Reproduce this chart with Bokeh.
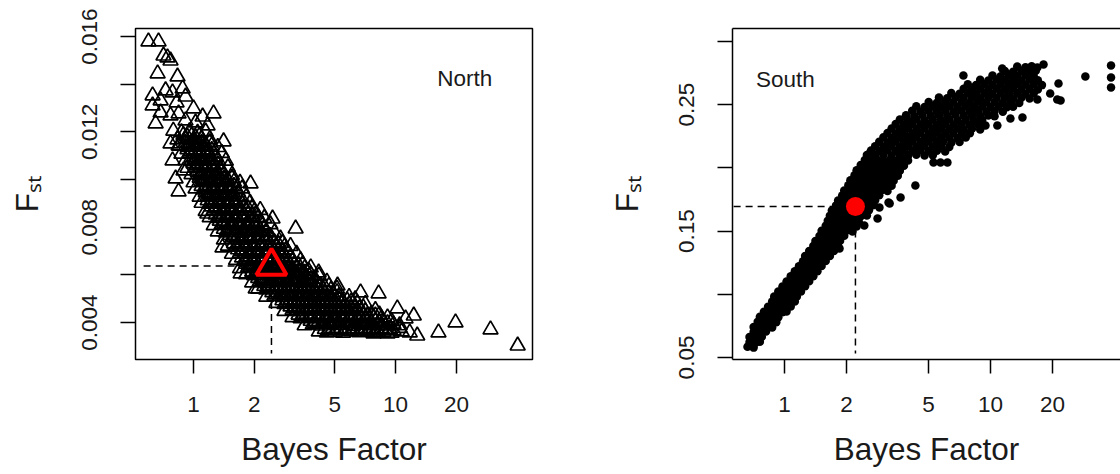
from bokeh.plotting import figure
from bokeh.layouts import row
from bokeh.models import FixedTicker, BasicTickFormatter, Label, LogAxis, Range1d
from bokeh.embed import file_html
from bokeh.resources import INLINE

# ----------------------------------------------------------------- data
x_ticks = [1, 2, 5, 10, 20]
north_y_ticks = [0.004, 0.008, 0.012, 0.016]
north_y_minor = [0.006, 0.010, 0.014]
south_y_ticks = [0.05, 0.15, 0.25]
south_y_minor = [0.10, 0.20, 0.30]

panel_names = ["North", "South"]
x_title = "Bayes Factor"
y_title = "F\u209b\u209c"

# North: Bayes factor / Fst of each locus (band read row by row, then stragglers)
north_bf = [
    0.794, 0.871, 0.955, 1.047, 1.148,
    0.832, 0.912, 1.000, 1.096, 1.202,
    0.851, 0.933, 1.023, 1.122, 1.230, 1.318,
    0.871, 0.955, 1.047, 1.148, 1.259, 1.380,
    0.912, 1.000, 1.096, 1.202, 1.318, 1.445,
    0.933, 1.023, 1.122, 1.230, 1.349, 1.479,
    0.977, 1.072, 1.175, 1.288, 1.413, 1.549,
    1.000, 1.096, 1.202, 1.318, 1.445, 1.585, 1.698,
    1.023, 1.122, 1.230, 1.349, 1.479, 1.622, 1.738,
    1.072, 1.175, 1.288, 1.413, 1.549, 1.698, 1.820,
    1.096, 1.202, 1.318, 1.445, 1.585, 1.738, 1.905,
    1.148, 1.259, 1.380, 1.514, 1.660, 1.820, 1.995, 2.138,
    1.202, 1.318, 1.445, 1.585, 1.738, 1.905, 2.089, 2.239,
    1.259, 1.380, 1.514, 1.660, 1.820, 1.995, 2.188, 2.399,
    1.318, 1.445, 1.585, 1.738, 1.905, 2.089, 2.291, 2.512,
    1.413, 1.549, 1.698, 1.862, 2.042, 2.239, 2.455, 2.692,
    1.479, 1.622, 1.778, 1.950, 2.138, 2.344, 2.570, 2.818, 3.020,
    1.549, 1.698, 1.862, 2.042, 2.239, 2.455, 2.692, 2.951, 3.236,
    1.622, 1.778, 1.950, 2.138, 2.344, 2.570, 2.818, 3.090, 3.388,
    1.698, 1.862, 2.042, 2.239, 2.455, 2.692, 2.951, 3.236, 3.548, 3.802,
    1.820, 1.995, 2.188, 2.399, 2.630, 2.884, 3.162, 3.467, 3.802, 4.169,
    1.950, 2.138, 2.344, 2.570, 2.818, 3.090, 3.388, 3.715, 4.074, 4.571,
    2.089, 2.291, 2.512, 2.754, 3.020, 3.311, 3.631, 3.981, 4.365, 4.786, 5.129,
    2.291, 2.512, 2.754, 3.020, 3.311, 3.631, 3.981, 4.365, 4.786, 5.248, 5.888,
    2.570, 2.818, 3.090, 3.388, 3.715, 4.074, 4.467, 4.898, 5.370, 5.888, 6.457, 7.079,
    2.818, 3.090, 3.388, 3.715, 4.074, 4.467, 4.898, 5.370, 5.888, 6.457, 7.079, 7.943,
    3.090, 3.388, 3.715, 4.074, 4.467, 4.898, 5.370, 5.888, 6.457, 7.079, 7.762, 8.511, 9.120,
    3.548, 3.890, 4.266, 4.677, 5.129, 5.623, 6.166, 6.761, 7.413, 8.128, 8.913, 9.772, 10.47,
    4.169, 4.571, 5.012, 5.495, 6.026, 6.607, 7.244, 7.943, 8.710, 9.550, 10.72, 11.75,
    0.598, 0.671, 0.710, 0.743, 0.769, 0.664, 0.833, 0.627, 0.727, 0.883,
    0.913, 0.627, 0.787, 0.687, 0.649, 0.769, 0.843, 1.109, 1.256, 1.173,
    1.408, 0.769, 0.843, 0.815, 0.843, 1.915, 0.892, 2.46, 3.20, 1.39,
    1.71, 2.03, 4.16, 5.16, 6.71, 8.24, 10.2, 12.3, 11.2, 7.78,
    9.12, 12.8, 16.3, 19.8, 29.5, 40.2, 1.17,
    1.000, 0.912, 1.023, 0.687, 0.824, 0.787,
]
north_fst = [
    0.01205, 0.01198, 0.01202, 0.01196, 0.01201,
    0.01168, 0.01173, 0.01166, 0.01171, 0.01169,
    0.01142, 0.01137, 0.01141, 0.01138, 0.01143, 0.01136,
    0.01108, 0.01112, 0.01107, 0.01113, 0.01109, 0.01111,
    0.01081, 0.01077, 0.01083, 0.01078, 0.01082, 0.01079,
    0.01049, 0.01053, 0.01048, 0.01052, 0.01047, 0.01051,
    0.01022, 0.01018, 0.01021, 0.01017, 0.01023, 0.01019,
    0.00988, 0.00992, 0.00987, 0.00993, 0.00989, 0.00991, 0.00986,
    0.00962, 0.00958, 0.00961, 0.00957, 0.00963, 0.00959, 0.00962,
    0.00928, 0.00932, 0.00927, 0.00933, 0.00929, 0.00931, 0.00926,
    0.00902, 0.00898, 0.00901, 0.00897, 0.00903, 0.00899, 0.00902,
    0.00868, 0.00872, 0.00867, 0.00873, 0.00869, 0.00871, 0.00866, 0.00872,
    0.00842, 0.00838, 0.00841, 0.00837, 0.00843, 0.00839, 0.00842, 0.00838,
    0.00808, 0.00812, 0.00807, 0.00813, 0.00809, 0.00811, 0.00806, 0.00812,
    0.00782, 0.00778, 0.00781, 0.00777, 0.00783, 0.00779, 0.00782, 0.00778,
    0.00748, 0.00752, 0.00747, 0.00753, 0.00749, 0.00751, 0.00746, 0.00752,
    0.00722, 0.00718, 0.00721, 0.00717, 0.00723, 0.00719, 0.00722, 0.00718, 0.00721,
    0.00688, 0.00692, 0.00687, 0.00693, 0.00689, 0.00691, 0.00686, 0.00692, 0.00688,
    0.00662, 0.00658, 0.00661, 0.00657, 0.00663, 0.00659, 0.00662, 0.00658, 0.00661,
    0.00628, 0.00632, 0.00627, 0.00633, 0.00629, 0.00631, 0.00626, 0.00632, 0.00628, 0.00631,
    0.00602, 0.00598, 0.00601, 0.00597, 0.00603, 0.00599, 0.00602, 0.00598, 0.00601, 0.00597,
    0.00568, 0.00572, 0.00567, 0.00573, 0.00569, 0.00571, 0.00566, 0.00572, 0.00568, 0.00571,
    0.00542, 0.00538, 0.00541, 0.00537, 0.00543, 0.00539, 0.00542, 0.00538, 0.00541, 0.00537, 0.00542,
    0.00508, 0.00512, 0.00507, 0.00513, 0.00509, 0.00511, 0.00506, 0.00512, 0.00508, 0.00511, 0.00507,
    0.00482, 0.00478, 0.00481, 0.00477, 0.00483, 0.00479, 0.00482, 0.00478, 0.00481, 0.00477, 0.00482, 0.00478,
    0.00448, 0.00452, 0.00447, 0.00453, 0.00449, 0.00451, 0.00446, 0.00452, 0.00448, 0.00451, 0.00447, 0.00452,
    0.00422, 0.00418, 0.00421, 0.00417, 0.00423, 0.00419, 0.00422, 0.00418, 0.00421, 0.00417, 0.00422, 0.00418, 0.00421,
    0.00388, 0.00392, 0.00387, 0.00393, 0.00389, 0.00391, 0.00386, 0.00392, 0.00388, 0.00391, 0.00387, 0.00392, 0.00388,
    0.00362, 0.00358, 0.00361, 0.00357, 0.00363, 0.00359, 0.00362, 0.00358, 0.00361, 0.00357, 0.00362, 0.00358,
    0.01579, 0.01579, 0.01520, 0.01512, 0.01499, 0.01445, 0.01432, 0.01353, 0.01374, 0.01382,
    0.01348, 0.01311, 0.01365, 0.01332, 0.01235, 0.01269, 0.01277, 0.01264, 0.01277, 0.01227,
    0.01160, 0.01151, 0.01143, 0.01004, 0.00950, 0.00983, 0.01038, 0.00836, 0.00794, 0.00715,
    0.00606, 0.00543, 0.00610, 0.00555, 0.00526, 0.00522, 0.00459, 0.00429, 0.00417, 0.00354,
    0.00354, 0.00345, 0.00358, 0.00400, 0.00371, 0.00303, 0.00857,
    0.01298, 0.01248, 0.01239, 0.01281, 0.01323, 0.01080,
]
# North: loci packed between the rows above (core of the band)
north_bf_core = [
    0.891, 0.977, 1.072,
    0.912, 1.000, 1.096, 1.202,
    0.933, 1.023, 1.122, 1.230,
    0.977, 1.072, 1.175, 1.288,
    1.000, 1.096, 1.202, 1.318,
    1.047, 1.148, 1.259, 1.380,
    1.072, 1.175, 1.288, 1.413, 1.549,
    1.096, 1.202, 1.318, 1.445, 1.585,
    1.148, 1.259, 1.380, 1.514, 1.660,
    1.175, 1.288, 1.413, 1.549, 1.698,
    1.230, 1.349, 1.479, 1.622, 1.778, 1.950,
    1.288, 1.413, 1.549, 1.698, 1.862, 2.042,
    1.349, 1.479, 1.622, 1.778, 1.950, 2.138,
    1.413, 1.549, 1.698, 1.862, 2.042, 2.239,
    1.514, 1.660, 1.820, 1.995, 2.188, 2.399,
    1.585, 1.738, 1.905, 2.089, 2.291, 2.512, 2.754,
    1.660, 1.820, 1.995, 2.188, 2.399, 2.630, 2.884,
    1.738, 1.905, 2.089, 2.291, 2.512, 2.754, 3.020,
    1.820, 1.995, 2.188, 2.399, 2.630, 2.884, 3.162, 3.467,
    1.950, 2.138, 2.344, 2.570, 2.818, 3.090, 3.388, 3.715,
    2.089, 2.291, 2.512, 2.754, 3.020, 3.311, 3.631, 3.981,
    2.239, 2.455, 2.692, 2.951, 3.236, 3.548, 3.890, 4.266, 4.677,
    2.455, 2.692, 2.951, 3.236, 3.548, 3.890, 4.266, 4.677, 5.129,
    2.754, 3.020, 3.311, 3.631, 3.981, 4.365, 4.786, 5.248, 5.754, 6.310,
    3.020, 3.311, 3.631, 3.981, 4.365, 4.786, 5.248, 5.754, 6.310, 6.918,
    3.311, 3.631, 3.981, 4.365, 4.786, 5.248, 5.754, 6.310, 6.918, 7.586, 8.318,
    3.802, 4.169, 4.571, 5.012, 5.495, 6.026, 6.607, 7.244, 7.943, 8.710, 9.550,
    4.467, 4.898, 5.370, 5.888, 6.457, 7.079, 7.762, 8.511, 9.333, 10.47,
]
north_fst_core = [
    0.01187, 0.01183, 0.01186,
    0.01153, 0.01157, 0.01154, 0.01156,
    0.01127, 0.01123, 0.01126, 0.01124,
    0.01093, 0.01097, 0.01094, 0.01096,
    0.01067, 0.01063, 0.01066, 0.01064,
    0.01033, 0.01037, 0.01034, 0.01036,
    0.01007, 0.01003, 0.01006, 0.01004, 0.01007,
    0.00973, 0.00977, 0.00974, 0.00976, 0.00973,
    0.00947, 0.00943, 0.00946, 0.00944, 0.00947,
    0.00913, 0.00917, 0.00914, 0.00916, 0.00913,
    0.00887, 0.00883, 0.00886, 0.00884, 0.00887, 0.00883,
    0.00853, 0.00857, 0.00854, 0.00856, 0.00853, 0.00857,
    0.00827, 0.00823, 0.00826, 0.00824, 0.00827, 0.00823,
    0.00793, 0.00797, 0.00794, 0.00796, 0.00793, 0.00797,
    0.00767, 0.00763, 0.00766, 0.00764, 0.00767, 0.00763,
    0.00733, 0.00737, 0.00734, 0.00736, 0.00733, 0.00737, 0.00734,
    0.00707, 0.00703, 0.00706, 0.00704, 0.00707, 0.00703, 0.00706,
    0.00673, 0.00677, 0.00674, 0.00676, 0.00673, 0.00677, 0.00674,
    0.00647, 0.00643, 0.00646, 0.00644, 0.00647, 0.00643, 0.00646, 0.00644,
    0.00613, 0.00617, 0.00614, 0.00616, 0.00613, 0.00617, 0.00614, 0.00616,
    0.00587, 0.00583, 0.00586, 0.00584, 0.00587, 0.00583, 0.00586, 0.00584,
    0.00553, 0.00557, 0.00554, 0.00556, 0.00553, 0.00557, 0.00554, 0.00556, 0.00553,
    0.00527, 0.00523, 0.00526, 0.00524, 0.00527, 0.00523, 0.00526, 0.00524, 0.00527,
    0.00493, 0.00497, 0.00494, 0.00496, 0.00493, 0.00497, 0.00494, 0.00496, 0.00493, 0.00497,
    0.00467, 0.00463, 0.00466, 0.00464, 0.00467, 0.00463, 0.00466, 0.00464, 0.00467, 0.00463,
    0.00433, 0.00437, 0.00434, 0.00436, 0.00433, 0.00437, 0.00434, 0.00436, 0.00433, 0.00437, 0.00434,
    0.00407, 0.00403, 0.00406, 0.00404, 0.00407, 0.00403, 0.00406, 0.00404, 0.00407, 0.00403, 0.00406,
    0.00373, 0.00377, 0.00374, 0.00376, 0.00373, 0.00377, 0.00374, 0.00376, 0.00373, 0.00377,
]
# North: the densest, innermost loci
north_bf_inner = [
    0.933, 1.023,
    0.955, 1.047, 1.148,
    0.977, 1.072, 1.175,
    1.023, 1.122, 1.230,
    1.047, 1.148, 1.259,
    1.096, 1.202, 1.318,
    1.122, 1.230, 1.349, 1.479,
    1.148, 1.259, 1.380, 1.514,
    1.202, 1.318, 1.445, 1.585,
    1.230, 1.349, 1.479, 1.622,
    1.288, 1.413, 1.549, 1.698, 1.862,
    1.349, 1.479, 1.622, 1.778, 1.950,
    1.413, 1.549, 1.698, 1.862, 2.042,
    1.479, 1.622, 1.778, 1.950, 2.138,
    1.585, 1.738, 1.905, 2.089, 2.291,
    1.660, 1.820, 1.995, 2.188, 2.399, 2.630,
    1.738, 1.905, 2.089, 2.291, 2.512, 2.754,
    1.820, 1.995, 2.188, 2.399, 2.630, 2.884,
    1.905, 2.089, 2.291, 2.512, 2.754, 3.020, 3.311,
    2.042, 2.239, 2.455, 2.692, 2.951, 3.236, 3.548,
    2.188, 2.399, 2.630, 2.884, 3.162, 3.467, 3.802,
    2.344, 2.570, 2.818, 3.090, 3.388, 3.715, 4.074, 4.467,
    2.570, 2.818, 3.090, 3.388, 3.715, 4.074, 4.467, 4.898,
    2.884, 3.162, 3.467, 3.802, 4.169, 4.571, 5.012, 5.495, 6.026,
    3.162, 3.467, 3.802, 4.169, 4.571, 5.012, 5.495, 6.026, 6.607,
    3.467, 3.802, 4.169, 4.571, 5.012, 5.495, 6.026, 6.607, 7.244, 7.943,
    3.981, 4.365, 4.786, 5.248, 5.754, 6.310, 6.918, 7.586, 8.318, 9.120,
    4.677, 5.129, 5.623, 6.166, 6.761, 7.413, 8.128, 8.913, 9.772,
]
north_fst_inner = [
    0.01179, 0.01177,
    0.01147, 0.01149, 0.01146,
    0.01119, 0.01117, 0.01120,
    0.01087, 0.01089, 0.01086,
    0.01059, 0.01057, 0.01060,
    0.01027, 0.01029, 0.01026,
    0.00999, 0.00997, 0.01000, 0.00998,
    0.00967, 0.00969, 0.00966, 0.00968,
    0.00939, 0.00937, 0.00940, 0.00938,
    0.00907, 0.00909, 0.00906, 0.00908,
    0.00879, 0.00877, 0.00880, 0.00878, 0.00879,
    0.00847, 0.00849, 0.00846, 0.00848, 0.00847,
    0.00819, 0.00817, 0.00820, 0.00818, 0.00819,
    0.00787, 0.00789, 0.00786, 0.00788, 0.00787,
    0.00759, 0.00757, 0.00760, 0.00758, 0.00759,
    0.00727, 0.00729, 0.00726, 0.00728, 0.00727, 0.00729,
    0.00699, 0.00697, 0.00700, 0.00698, 0.00699, 0.00697,
    0.00667, 0.00669, 0.00666, 0.00668, 0.00667, 0.00669,
    0.00639, 0.00637, 0.00640, 0.00638, 0.00639, 0.00637, 0.00640,
    0.00607, 0.00609, 0.00606, 0.00608, 0.00607, 0.00609, 0.00606,
    0.00579, 0.00577, 0.00580, 0.00578, 0.00579, 0.00577, 0.00580,
    0.00547, 0.00549, 0.00546, 0.00548, 0.00547, 0.00549, 0.00546, 0.00548,
    0.00519, 0.00517, 0.00520, 0.00518, 0.00519, 0.00517, 0.00520, 0.00518,
    0.00487, 0.00489, 0.00486, 0.00488, 0.00487, 0.00489, 0.00486, 0.00488, 0.00487,
    0.00459, 0.00457, 0.00460, 0.00458, 0.00459, 0.00457, 0.00460, 0.00458, 0.00459,
    0.00427, 0.00429, 0.00426, 0.00428, 0.00427, 0.00429, 0.00426, 0.00428, 0.00427, 0.00429,
    0.00399, 0.00397, 0.00400, 0.00398, 0.00399, 0.00397, 0.00400, 0.00398, 0.00399, 0.00397,
    0.00367, 0.00369, 0.00366, 0.00368, 0.00367, 0.00369, 0.00366, 0.00368, 0.00367,
]

# South: lower, narrow part of the band
south_bf_lower = [
    0.661, 0.708,
    0.676, 0.724, 0.759,
    0.676, 0.724, 0.776,
    0.708, 0.759, 0.813,
    0.708, 0.759, 0.813, 0.871,
    0.741, 0.794, 0.851, 0.912,
    0.759, 0.813, 0.871, 0.933,
    0.794, 0.851, 0.912, 0.977, 1.023,
    0.832, 0.891, 0.955, 1.023, 1.072,
    0.871, 0.933, 1.000, 1.072, 1.122,
    0.891, 0.955, 1.023, 1.096, 1.148,
    0.933, 1.000, 1.072, 1.148, 1.202,
    0.977, 1.047, 1.122, 1.202, 1.259,
    1.023, 1.096, 1.175, 1.259, 1.318,
    1.072, 1.148, 1.230, 1.318, 1.380,
    1.122, 1.202, 1.288, 1.380, 1.445,
    1.175, 1.259, 1.349, 1.445, 1.514,
    1.230, 1.318, 1.413, 1.514, 1.585,
    1.259, 1.349, 1.445, 1.549, 1.660,
    1.318, 1.413, 1.514, 1.622, 1.738,
    1.380, 1.479, 1.585, 1.698, 1.820,
    1.413, 1.514, 1.622, 1.738, 1.862,
    1.479, 1.585, 1.698, 1.820, 1.950,
    1.514, 1.622, 1.738, 1.862, 1.995, 2.138,
    1.585, 1.698, 1.820, 1.950, 2.089, 2.239,
    1.622, 1.738, 1.862, 1.995, 2.138, 2.291,
    1.660, 1.778, 1.905, 2.042, 2.188, 2.344, 2.512,
    1.698, 1.820, 1.950, 2.089, 2.239, 2.399, 2.570,
    1.778, 1.905, 2.042, 2.188, 2.344, 2.512, 2.692,
    1.820, 1.950, 2.089, 2.239, 2.399, 2.570, 2.754,
    1.905, 2.042, 2.188, 2.344, 2.512, 2.692, 2.884,
    1.950, 2.089, 2.239, 2.399, 2.570, 2.754, 2.951, 3.162,
    2.042, 2.188, 2.344, 2.512, 2.692, 2.884, 3.090, 3.311,
    2.089, 2.239, 2.399, 2.570, 2.754, 2.951, 3.162, 3.388,
    2.188, 2.344, 2.512, 2.692, 2.884, 3.090, 3.311, 3.548,
    2.239, 2.399, 2.570, 2.754, 2.951, 3.162, 3.388, 3.631,
    2.344, 2.512, 2.692, 2.884, 3.090, 3.311, 3.548, 3.802,
    2.455, 2.630, 2.818, 3.020, 3.236, 3.467, 3.715, 3.981,
]
south_fst_lower = [
    0.0585, 0.0578,
    0.0622, 0.0616, 0.0625,
    0.0662, 0.0657, 0.0664,
    0.0702, 0.0696, 0.0705,
    0.0742, 0.0736, 0.0745, 0.0738,
    0.0782, 0.0776, 0.0785, 0.0778,
    0.0822, 0.0816, 0.0825, 0.0818,
    0.0862, 0.0856, 0.0865, 0.0858, 0.0863,
    0.0902, 0.0896, 0.0905, 0.0898, 0.0903,
    0.0942, 0.0936, 0.0945, 0.0938, 0.0943,
    0.0982, 0.0976, 0.0985, 0.0978, 0.0983,
    0.1022, 0.1016, 0.1025, 0.1018, 0.1023,
    0.1062, 0.1056, 0.1065, 0.1058, 0.1063,
    0.1102, 0.1096, 0.1105, 0.1098, 0.1103,
    0.1142, 0.1136, 0.1145, 0.1138, 0.1143,
    0.1182, 0.1176, 0.1185, 0.1178, 0.1183,
    0.1222, 0.1216, 0.1225, 0.1218, 0.1223,
    0.1262, 0.1256, 0.1265, 0.1258, 0.1263,
    0.1302, 0.1296, 0.1305, 0.1298, 0.1303,
    0.1342, 0.1336, 0.1345, 0.1338, 0.1343,
    0.1382, 0.1376, 0.1385, 0.1378, 0.1383,
    0.1422, 0.1416, 0.1425, 0.1418, 0.1423,
    0.1462, 0.1456, 0.1465, 0.1458, 0.1463,
    0.1502, 0.1496, 0.1505, 0.1498, 0.1503, 0.1497,
    0.1542, 0.1536, 0.1545, 0.1538, 0.1543, 0.1537,
    0.1582, 0.1576, 0.1585, 0.1578, 0.1583, 0.1577,
    0.1622, 0.1616, 0.1625, 0.1618, 0.1623, 0.1617, 0.1624,
    0.1662, 0.1656, 0.1665, 0.1658, 0.1663, 0.1657, 0.1664,
    0.1702, 0.1696, 0.1705, 0.1698, 0.1703, 0.1697, 0.1704,
    0.1742, 0.1736, 0.1745, 0.1738, 0.1743, 0.1737, 0.1744,
    0.1782, 0.1776, 0.1785, 0.1778, 0.1783, 0.1777, 0.1784,
    0.1822, 0.1816, 0.1825, 0.1818, 0.1823, 0.1817, 0.1824, 0.1818,
    0.1862, 0.1856, 0.1865, 0.1858, 0.1863, 0.1857, 0.1864, 0.1858,
    0.1902, 0.1896, 0.1905, 0.1898, 0.1903, 0.1897, 0.1904, 0.1898,
    0.1942, 0.1936, 0.1945, 0.1938, 0.1943, 0.1937, 0.1944, 0.1938,
    0.1982, 0.1976, 0.1985, 0.1978, 0.1983, 0.1977, 0.1984, 0.1978,
    0.2022, 0.2016, 0.2025, 0.2018, 0.2023, 0.2017, 0.2024, 0.2018,
    0.2062, 0.2056, 0.2065, 0.2058, 0.2063, 0.2057, 0.2064, 0.2058,
]
# South: upper, wider part of the band
south_bf_upper = [
    2.512, 2.754, 3.020, 3.311, 3.631, 3.981, 4.365, 4.786, 5.248,
    2.630, 2.884, 3.162, 3.467, 3.802, 4.169, 4.571, 5.012, 5.495, 6.026,
    2.754, 3.020, 3.311, 3.631, 3.981, 4.365, 4.786, 5.248, 5.754, 6.310,
    2.884, 3.162, 3.467, 3.802, 4.169, 4.571, 5.012, 5.495, 5.888, 6.457, 7.079,
    3.020, 3.311, 3.631, 3.981, 4.365, 4.786, 5.248, 5.754, 6.310, 6.918, 7.586,
    3.162, 3.467, 3.802, 4.169, 4.571, 5.012, 5.495, 6.026, 6.607, 7.244, 7.943,
    3.311, 3.631, 3.981, 4.365, 4.786, 5.248, 5.754, 6.310, 6.918, 7.413, 8.128, 8.913,
    3.467, 3.802, 4.169, 4.571, 5.012, 5.495, 6.026, 6.607, 7.244, 7.943, 8.710,
    3.631, 3.981, 4.365, 4.786, 5.248, 5.754, 6.310, 6.918, 7.586, 8.318, 9.120,
    3.890, 4.266, 4.677, 5.129, 5.623, 6.166, 6.761, 7.413, 8.128, 8.913, 9.772, 10.47,
    4.169, 4.571, 5.012, 5.495, 6.026, 6.607, 7.244, 7.943, 8.710, 9.550, 10.47, 11.48,
    4.365, 4.786, 5.248, 5.754, 6.310, 6.918, 7.586, 8.318, 9.120, 10.00, 10.96, 12.02, 12.88,
    5.012, 5.495, 6.026, 6.607, 7.244, 7.943, 8.710, 9.550, 10.47, 11.48, 12.59, 13.80,
    5.623, 6.166, 6.761, 7.413, 8.128, 8.913, 9.772, 10.72, 11.75, 12.88, 14.13, 15.49,
    6.457, 7.079, 7.762, 8.511, 9.333, 10.23, 11.22, 12.30, 13.49, 14.79, 16.22,
    7.413, 8.128, 8.913, 9.772, 10.72, 11.75, 12.88, 14.13, 15.49, 16.98,
    7.762, 8.511, 9.333, 10.23, 11.22, 12.30, 13.49, 14.79, 16.22, 17.78,
    8.913, 9.772, 10.72, 11.75, 12.88, 14.13, 15.49, 16.98,
    10.23, 11.22, 12.30, 13.49, 14.79, 16.22,
    11.75, 12.88, 14.13, 15.49, 16.60,
    13.49, 14.79, 15.85,
]
south_fst_upper = [
    0.2102, 0.2096, 0.2104, 0.2098, 0.2103, 0.2097, 0.2105, 0.2099, 0.2101,
    0.2137, 0.2131, 0.2139, 0.2133, 0.2138, 0.2132, 0.2140, 0.2134, 0.2136, 0.2130,
    0.2172, 0.2166, 0.2174, 0.2168, 0.2173, 0.2167, 0.2175, 0.2169, 0.2171, 0.2165,
    0.2207, 0.2201, 0.2209, 0.2203, 0.2208, 0.2202, 0.2210, 0.2204, 0.2206, 0.2200, 0.2205,
    0.2242, 0.2236, 0.2244, 0.2238, 0.2243, 0.2237, 0.2245, 0.2239, 0.2241, 0.2235, 0.2240,
    0.2277, 0.2271, 0.2279, 0.2273, 0.2278, 0.2272, 0.2280, 0.2274, 0.2276, 0.2270, 0.2275,
    0.2312, 0.2306, 0.2314, 0.2308, 0.2313, 0.2307, 0.2315, 0.2309, 0.2311, 0.2305, 0.2310, 0.2304,
    0.2347, 0.2341, 0.2349, 0.2343, 0.2348, 0.2342, 0.2350, 0.2344, 0.2346, 0.2340, 0.2345,
    0.2382, 0.2376, 0.2384, 0.2378, 0.2383, 0.2377, 0.2385, 0.2379, 0.2381, 0.2375, 0.2380,
    0.2417, 0.2411, 0.2419, 0.2413, 0.2418, 0.2412, 0.2420, 0.2414, 0.2416, 0.2410, 0.2415, 0.2409,
    0.2452, 0.2446, 0.2454, 0.2448, 0.2453, 0.2447, 0.2455, 0.2449, 0.2451, 0.2445, 0.2450, 0.2444,
    0.2487, 0.2481, 0.2489, 0.2483, 0.2488, 0.2482, 0.2490, 0.2484, 0.2486, 0.2480, 0.2485, 0.2479, 0.2483,
    0.2522, 0.2516, 0.2524, 0.2518, 0.2523, 0.2517, 0.2525, 0.2519, 0.2521, 0.2515, 0.2520, 0.2514,
    0.2557, 0.2551, 0.2559, 0.2553, 0.2558, 0.2552, 0.2560, 0.2554, 0.2556, 0.2550, 0.2555, 0.2549,
    0.2592, 0.2586, 0.2594, 0.2588, 0.2593, 0.2587, 0.2595, 0.2589, 0.2591, 0.2585, 0.2590,
    0.2627, 0.2621, 0.2629, 0.2623, 0.2628, 0.2622, 0.2630, 0.2624, 0.2626, 0.2620,
    0.2662, 0.2656, 0.2664, 0.2658, 0.2663, 0.2657, 0.2665, 0.2659, 0.2661, 0.2655,
    0.2697, 0.2691, 0.2699, 0.2693, 0.2698, 0.2692, 0.2700, 0.2694,
    0.2732, 0.2726, 0.2734, 0.2728, 0.2733, 0.2727,
    0.2767, 0.2761, 0.2769, 0.2763, 0.2768,
    0.2802, 0.2796, 0.2804,
]
# South: stragglers off the band
south_bf_out = [
    1.85, 2.44, 2.83, 3.24, 3.66, 2.89, 4.32, 3.20, 5.72, 5.29,
    6.18, 2.61, 7.39, 11.4, 12.9, 15.6, 16.9, 18.1, 21.4, 19.5,
    21.1, 16.9, 28.9, 38.5, 38.5, 38.5, 14.3, 12.5, 10.8, 9.46,
    8.94, 21.9,
]
south_fst_out = [
    0.1362, 0.1544, 0.1600, 0.1718, 0.1766, 0.1687, 0.1861, 0.1726, 0.2043, 0.2043,
    0.2043, 0.2122, 0.2731, 0.2786, 0.2755, 0.2771, 0.2794, 0.2818, 0.2668, 0.2589,
    0.2541, 0.2541, 0.2723, 0.2810, 0.2715, 0.2636, 0.2399, 0.2391, 0.2335, 0.2335,
    0.2320, 0.2533,
]

# highlighted locus and its guide lines
north_mark_bf, north_mark_fst = 2.43, 0.00637
south_mark_bf, south_mark_fst = 2.21, 0.1695
guide_bf_start = 0.566
north_guide_fst_end = 0.0027
south_guide_fst_end = 0.0532

# where the panel names sit (data units of each panel)
north_name_at = (21.98, 0.01424)
south_name_at = (1.01, 0.2699)

for a, b in ((north_bf, north_fst), (north_bf_core, north_fst_core),
             (north_bf_inner, north_fst_inner),
             (south_bf_lower, south_fst_lower), (south_bf_upper, south_fst_upper),
             (south_bf_out, south_fst_out)):
    assert len(a) == len(b), (len(a), len(b))

all_north_bf = north_bf + north_bf_core + north_bf_inner
all_north_fst = north_fst + north_fst_core + north_fst_inner
all_south_bf = south_bf_lower + south_bf_upper + south_bf_out
all_south_fst = south_fst_lower + south_fst_upper + south_fst_out

# ----------------------------------------------------------------- style
FONT = "Liberation Sans"
TXT = "#1a1a1a"
TICK_FS = "22.5px"
TITLE_FS = "31.5px"


def base_figure(width, x_range, y_range, border_left, border_right, outline):
    p = figure(width=width, height=474, x_axis_type="log",
               x_range=x_range, y_range=y_range,
               output_backend="svg", toolbar_location=None,
               min_border_left=border_left, min_border_right=border_right,
               min_border_top=28, min_border_bottom=115,
               background_fill_color="white", border_fill_color="white")
    p.xgrid.visible = False
    p.ygrid.visible = False
    p.outline_line_color = "black" if outline else None
    p.outline_line_width = 1.5
    return p


def style_axes(p, yticks, yminor, axis_lines, ytitle_standoff):
    xa = p.xaxis[0]
    xa.ticker = FixedTicker(ticks=x_ticks, minor_ticks=[])
    xa.formatter = BasicTickFormatter()
    xa.axis_label = x_title
    xa.axis_label_standoff = 16
    ya = p.yaxis[0]
    ya.ticker = FixedTicker(ticks=yticks, minor_ticks=yminor)
    ya.formatter = BasicTickFormatter()
    ya.major_label_orientation = "parallel"
    ya.axis_label = y_title
    ya.axis_label_standoff = ytitle_standoff
    for ax, tick_len, standoff in ((xa, 14, 23), (ya, 15, 23)):
        ax.major_tick_out = tick_len
        ax.major_tick_in = 0
        ax.minor_tick_out = tick_len
        ax.minor_tick_in = 0
        ax.major_tick_line_width = 1.5
        ax.minor_tick_line_width = 1.5
        ax.major_tick_line_color = "black"
        ax.minor_tick_line_color = "black"
        ax.major_label_text_font = FONT
        ax.major_label_text_font_size = TICK_FS
        ax.major_label_text_color = TXT
        ax.major_label_standoff = standoff
        ax.axis_label_text_font = FONT
        ax.axis_label_text_font_size = TITLE_FS
        ax.axis_label_text_font_style = "normal"
        ax.axis_label_text_color = TXT
        ax.axis_line_color = "black" if axis_lines else None
        ax.axis_line_width = 1.5


# ----------------------------------------------------------------- North
p1 = base_figure(605, Range1d(0.516, 47.6), Range1d(0.00245, 0.01634), 135, 73, True)
style_axes(p1, north_y_ticks, north_y_minor, False, 35)
p1.segment(x0=[guide_bf_start, north_mark_bf], y0=[north_mark_fst, north_mark_fst],
           x1=[north_mark_bf, north_mark_bf], y1=[north_mark_fst, north_guide_fst_end],
           line_color="black", line_width=1.5, line_dash="7 5")
p1.scatter(all_north_bf, all_north_fst, marker="triangle", size=15, fill_color=None,
           line_color="black", line_width=1.7)
p1.scatter([north_mark_bf], [north_mark_fst], marker="triangle", size=30,
           fill_color=None, line_color="#ff0000", line_width=4)
p1.add_layout(Label(x=north_name_at[0], y=north_name_at[1], text=panel_names[0],
                    text_font=FONT, text_font_size=TICK_FS, text_align="center",
                    text_baseline="alphabetic", text_color=TXT))

# ----------------------------------------------------------------- South
p2 = base_figure(515, Range1d(0.559, 42.8), Range1d(0.0484, 0.3103), 127, 0, False)
style_axes(p2, south_y_ticks, south_y_minor, True, 32)
top = LogAxis(ticker=FixedTicker(ticks=[], minor_ticks=[]), major_tick_out=0,
              major_tick_in=0, minor_tick_out=0, minor_tick_in=0,
              major_label_text_font_size="0px", axis_line_color="black",
              axis_line_width=1.5)
p2.add_layout(top, "above")
p2.segment(x0=[guide_bf_start, south_mark_bf], y0=[south_mark_fst, south_mark_fst],
           x1=[south_mark_bf, south_mark_bf], y1=[south_mark_fst, south_guide_fst_end],
           line_color="black", line_width=1.5, line_dash="7 5")
p2.scatter(all_south_bf, all_south_fst, marker="circle", size=8.5, fill_color="black",
           line_color=None)
p2.scatter([south_mark_bf], [south_mark_fst], marker="circle", size=19,
           fill_color="#ff0000", line_color=None)
p2.add_layout(Label(x=south_name_at[0], y=south_name_at[1], text=panel_names[1],
                    text_font=FONT, text_font_size=TICK_FS, text_align="center",
                    text_baseline="alphabetic", text_color=TXT))

layout = row(p1, p2, spacing=0)
open("out.html", "w").write(file_html(layout, INLINE))
